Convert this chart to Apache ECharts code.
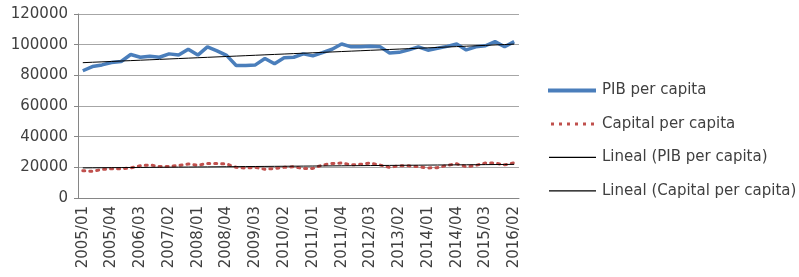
<!DOCTYPE html>
<html><head><meta charset="utf-8">
<script src="https://cdn.jsdelivr.net/npm/echarts@6/dist/echarts.min.js"></script>
<style>html,body{margin:0;padding:0;background:#fff}#c{width:799px;height:277px}</style>
</head><body><div id="c"></div>
<script>
const categories = [];
for (let y = 2005; y <= 2016; y++) for (let q = 1; q <= 4; q++) { if (y === 2016 && q > 2) break; categories.push(y + '/0' + q); }
const pib = [83000,85700,86800,88400,89000,93600,91800,92500,91800,94000,93200,97000,93200,98600,96000,93000,86400,86400,86800,91000,87500,91400,91800,94000,92700,94800,97000,100400,98600,98600,99000,98700,94600,95000,96600,98600,96400,97700,98900,100400,96600,98600,99300,102000,98600,102000];
const capital = [17800,17400,18600,19100,19100,19600,21000,21600,20500,20600,21200,22200,21400,22500,22500,22200,20000,19500,20000,18700,19300,20000,20400,19200,19300,21500,22500,22800,21600,22000,22800,21500,20000,21000,21000,20400,19600,19800,21300,22300,20400,21300,22800,22800,21600,23000];
const yTicks = [0,20000,40000,60000,80000,100000,120000];

function trend(arr){
  const n = arr.length; let sx=0,sy=0,sxx=0,sxy=0;
  arr.forEach((v,i)=>{sx+=i;sy+=v;sxx+=i*i;sxy+=i*v;});
  const b=(n*sxy-sx*sy)/(n*sxx-sx*sx), a=(sy-b*sx)/n;
  return arr.map((v,i)=>a+b*i);
}
// legend icon paths (bounding box 50x14 kept with tiny slivers at top and bottom)
const box = 'M0,0L50,0L50,0.01L0,0.01Z M0,14L50,14L50,13.99L0,13.99Z ';
const iconThick = 'path://' + box + 'M1,5H49V9H1Z';
let dots = ''; for (let k = 0; k < 6; k++) { const x = 4 + k * 8; dots += 'M' + x + ',5.5H' + (x + 3) + 'V8.5H' + x + 'Z '; }
const iconDots = 'path://' + box + dots;
const iconThin = 'path://' + box + 'M2,6.2H49V7.4H2Z';

const font = 'DejaVu Sans';
const chart = echarts.init(document.getElementById('c'));
chart.setOption({
  animation:false,
  textStyle:{fontFamily:font},
  grid:{left:78,right:280,top:14,bottom:79,containLabel:false},
  legend:{orient:'vertical',left:542,top:78,itemGap:18.5,itemWidth:50,itemHeight:14,
    textStyle:{fontFamily:font,fontSize:15,color:'#404040'},
    data:[
      {name:'PIB per capita',icon:iconThick},
      {name:'Capital per capita',icon:iconDots},
      {name:'Lineal (PIB per capita)',icon:iconThin},
      {name:'Lineal (Capital per capita)',icon:iconThin}]},
  xAxis:{type:'category',data:categories,boundaryGap:true,
    axisLine:{lineStyle:{color:'#868686'}},
    axisTick:{interval:0,length:5,lineStyle:{color:'#868686'}},
    axisLabel:{interval:2,rotate:90,fontSize:15,color:'#404040',margin:8,fontFamily:font}},
  yAxis:{type:'value',min:yTicks[0],max:yTicks[yTicks.length-1],interval:20000,
    axisLine:{show:true,lineStyle:{color:'#868686'}},
    axisTick:{show:true,length:4,lineStyle:{color:'#868686'}},
    axisLabel:{fontSize:15,color:'#404040',margin:10,fontFamily:font,formatter:v=>String(v)},
    splitLine:{lineStyle:{color:'#a6a6a6'}}},
  series:[
    {name:'PIB per capita',type:'line',data:pib,symbol:'none',lineStyle:{color:'#4a7ebb',width:3.5},itemStyle:{color:'#4a7ebb'}},
    {name:'Capital per capita',type:'line',data:capital,symbol:'none',lineStyle:{color:'#c0504d',width:3,type:[2,5],cap:'round'},itemStyle:{color:'#c0504d'}},
    {name:'Lineal (PIB per capita)',type:'line',data:trend(pib),symbol:'none',lineStyle:{color:'#000',width:1},itemStyle:{color:'#000'}},
    {name:'Lineal (Capital per capita)',type:'line',data:trend(capital),symbol:'none',lineStyle:{color:'#000',width:1},itemStyle:{color:'#000'}}
  ]
});
</script></body></html>
